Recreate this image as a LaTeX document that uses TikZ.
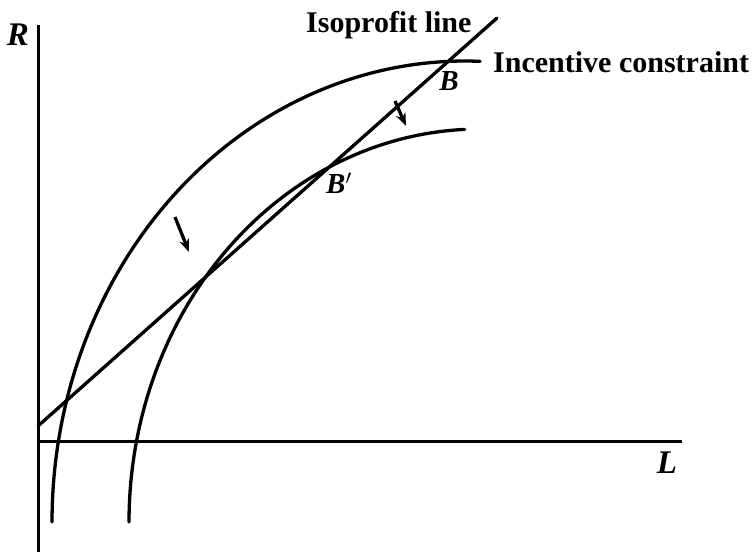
\documentclass[tikz,border=0pt]{standalone}
\usepackage{fontspec}
\setmainfont{Liberation Serif}
\usetikzlibrary{arrows.meta}
\tikzset{
  thick line/.style={line width=3.3pt, line cap=round, line join=round},
  curve/.style={thick line, smooth, samples=120, variable=\t},
  lbl/.style={font=\fontsize{30}{32}\selectfont\bfseries, inner sep=0pt},
  mlbl/.style={font=\fontsize{33}{35}\selectfont\bfseries\itshape, inner sep=0pt},
  smlbl/.style={font=\fontsize{29}{31}\selectfont\bfseries\itshape, inner sep=0pt},
  shift arrow/.style={line width=3.3pt, -{Stealth[length=13pt,width=10pt]}}
}
\begin{document}
\begin{tikzpicture}[x=1pt,y=-1pt]
\useasboundingbox (0,0) rectangle (756,552);
% axes
\coordinate (ytop) at (38.5,25);
\coordinate (ybot) at (38.5,552);
\coordinate (xl) at (37,441.5);
\coordinate (xr) at (682,441.5);
\draw[thick line, line cap=butt] (ytop) -- (ybot);
\draw[thick line, line cap=butt] (xl) -- (xr);
\node[mlbl, anchor=base] (R) at (18,45) {R};
\node[mlbl, anchor=base] (L) at (667,473) {L};
% isoprofit line
\coordinate (isoA) at (38,426);
\coordinate (isoB) at (497,18);
\draw[thick line] (isoA) -- (isoB);
\node[lbl, anchor=base west] (isoLbl) at (306,32) {Isoprofit line};
% outer curve (incentive constraint): quarter ellipse
\draw[curve, domain=0:92.1] plot ({465-413*cos(\t)}, {522-461*sin(\t)});
\node[lbl, anchor=base west] (icLbl) at (493,72) {Incentive constraint};
% inner curve
\draw[curve, domain=0:87.5] plot ({480-351*cos(\t)}, {522-393*sin(\t)});
% labels
\node[smlbl] (B) at (449,81) {B};
\node[smlbl] (Bp) at (339,183) {B$'$};
% arrows
\coordinate (a1s) at (175,217);
\coordinate (a1e) at (189,252);
\coordinate (a2s) at (395,101);
\coordinate (a2e) at (406,126);
\draw[shift arrow] (a1s) -- (a1e);
\draw[shift arrow] (a2s) -- (a2e);
\end{tikzpicture}
\end{document}
